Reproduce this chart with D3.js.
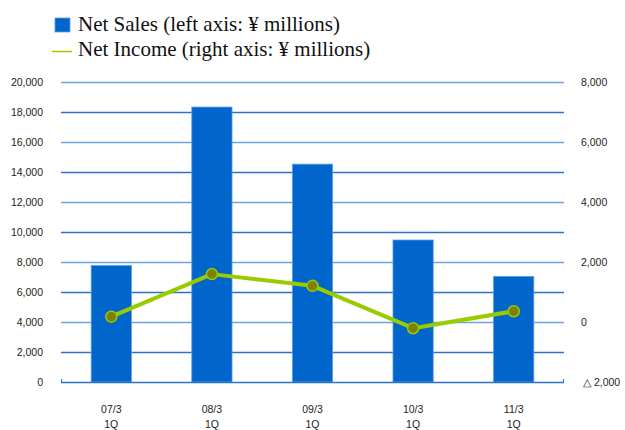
<!DOCTYPE html>
<html><head><meta charset="utf-8">
<script src="https://cdn.jsdelivr.net/npm/d3@7"></script>
<style>body{margin:0;background:#fff}svg{display:block}</style>
</head><body>
<svg id="c" width="625" height="430"></svg>
<script>
const categories = ["07/3", "08/3", "09/3", "10/3", "11/3"];
const categorySub = ["1Q", "1Q", "1Q", "1Q", "1Q"];
const netSales = [7750, 18300, 14500, 9450, 7030];
const netIncome = [175, 1590, 1200, -210, 355];
const leftTicks = [0, 2000, 4000, 6000, 8000, 10000, 12000, 14000, 16000, 18000, 20000];
const rightTicks = [-2000, 0, 2000, 4000, 6000, 8000];
const gridTicks = [0, 2000, 4000, 6000, 8000, 10000, 12000, 14000, 16000, 18000, 20000];

const svg = d3.select("#c");
const x0 = 61, x1 = 564, yTop = 81.5, yBot = 382;
const x = d3.scaleBand().domain(categories).range([x0, x1]).paddingInner(0.6).paddingOuter(0.3);
const yL = d3.scaleLinear().domain([0, 20000]).range([yBot, yTop]);
const yR = d3.scaleLinear().domain([-2000, 8000]).range([yBot, yTop]);

// gridlines
svg.append("g").selectAll("line").data(gridTicks.filter(d => d > 0)).join("line")
  .attr("x1", x0).attr("x2", x1)
  .attr("y1", d => Math.round(yL(d)) + 0.5).attr("y2", d => Math.round(yL(d)) + 0.5)
  .attr("stroke", (d, i) => (d / 2000) % 2 === 0 ? "#6fa3e0" : "#2f72c8").attr("stroke-width", 1.3);

// bars
svg.append("g").selectAll("rect").data(netSales).join("rect")
  .attr("x", (d, i) => x(categories[i]))
  .attr("y", d => yL(d))
  .attr("width", x.bandwidth())
  .attr("height", d => yBot - yL(d))
  .attr("fill", "#0066cc").attr("stroke", "#5d9de6").attr("stroke-width", 0.8);

// baseline axis
svg.append("line").attr("x1", x0).attr("x2", x1).attr("y1", yBot + 0.5).attr("y2", yBot + 0.5)
  .attr("stroke", "#2f72c8").attr("stroke-width", 1.3);
svg.append("line").attr("x1", x0 + 0.5).attr("x2", x0 + 0.5).attr("y1", yBot - 3).attr("y2", yBot + 1)
  .attr("stroke", "#2f72c8");
svg.append("line").attr("x1", x1 - 0.5).attr("x2", x1 - 0.5).attr("y1", yBot - 3).attr("y2", yBot + 1)
  .attr("stroke", "#2f72c8");

// line
const cx = c => x(c) + x.bandwidth() / 2;
const line = d3.line().x((d, i) => cx(categories[i])).y(d => yR(d));
svg.append("path").datum(netIncome).attr("d", line)
  .attr("fill", "none").attr("stroke", "#99cc00").attr("stroke-width", 4).attr("stroke-linejoin", "round");
svg.append("g").selectAll("circle").data(netIncome).join("circle")
  .attr("cx", (d, i) => cx(categories[i])).attr("cy", d => yR(d)).attr("r", 5.5)
  .attr("fill", "#808000").attr("stroke", "#99cc00").attr("stroke-width", 1.5);

// left axis labels
const fmt = d3.format(",");
svg.append("g").selectAll("text").data(leftTicks).join("text")
  .attr("x", 43).attr("y", d => yL(d) + 4)
  .attr("text-anchor", "end").attr("font-family", "Liberation Sans, Arial, sans-serif")
  .attr("font-size", 10.5).attr("fill", "#222").text(d => fmt(d));

// right axis labels
svg.append("g").selectAll("text").data(rightTicks).join("text")
  .attr("x", d => d < 0 ? 583 : 581).attr("y", d => yR(d) + 4)
  .attr("font-family", "Liberation Sans, Arial, sans-serif")
  .attr("font-size", 10.5).attr("fill", "#222")
  .text(d => d < 0 ? "\u25B3 " + fmt(-d) : fmt(d));

// category labels
const xl = svg.append("g").selectAll("g").data(categories).join("g");
xl.append("text").attr("x", d => cx(d)).attr("y", 413).attr("text-anchor", "middle")
  .attr("font-family", "Liberation Sans, Arial, sans-serif").attr("font-size", 10.5).attr("fill", "#222").text(d => d);
xl.append("text").attr("x", d => cx(d)).attr("y", 428).attr("text-anchor", "middle")
  .attr("font-family", "Liberation Sans, Arial, sans-serif").attr("font-size", 10.5).attr("fill", "#222")
  .text((d, i) => categorySub[i]);

// legend
const lg = svg.append("g");
lg.append("rect").attr("x", 55).attr("y", 18).attr("width", 15).attr("height", 14).attr("fill", "#0066cc").attr("stroke", "#5d9de6").attr("stroke-width", 0.8);
lg.append("text").attr("x", 78).attr("y", 30.5).attr("font-family", "Liberation Serif, Times New Roman, serif")
  .attr("font-size", 21).attr("fill", "#111").text("Net Sales (left axis: \u00A5 millions)");
lg.append("line").attr("x1", 52).attr("x2", 72).attr("y1", 51.5).attr("y2", 51.5).attr("stroke", "#99cc00").attr("stroke-width", 1.5);
lg.append("text").attr("x", 78).attr("y", 55.5).attr("font-family", "Liberation Serif, Times New Roman, serif")
  .attr("font-size", 21).attr("fill", "#111").text("Net Income (right axis: \u00A5 millions)");
</script>
</body></html>
